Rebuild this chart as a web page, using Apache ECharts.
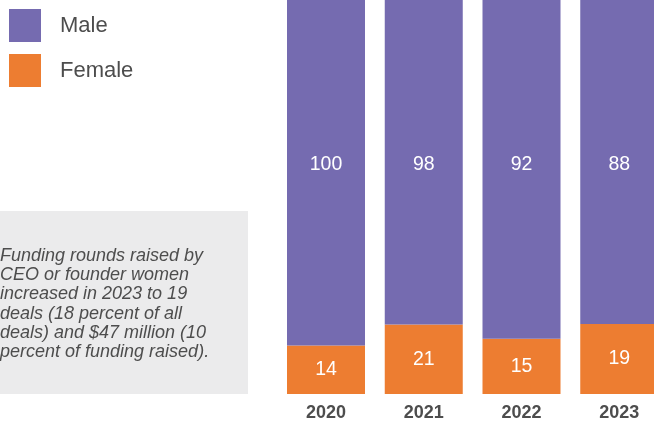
<!DOCTYPE html>
<html>
<head>
<meta charset="utf-8">
<script src="https://cdn.jsdelivr.net/npm/echarts@6/dist/echarts.min.js"></script>
<style>
html,body{margin:0;padding:0;background:#fff;}
#chart{width:654px;height:422px;}
</style>
</head>
<body>
<div id="chart"></div>
<script>
var years = ['2020', '2021', '2022', '2023'];
var maleDeals = [100, 98, 92, 88];
var femaleDeals = [14, 21, 15, 19];
var noteText = 'Funding rounds raised by\nCEO or founder women\nincreased in 2023 to 19\ndeals (18 percent of all\ndeals) and $47 million (10\npercent of funding raised).';

var FONT = '"Liberation Sans", Arial, Helvetica, sans-serif';
var PURPLE = '#756BB0';
var ORANGE = '#ED7D31';

function pct(a, b) { return a.map(function (v, i) { return v / (a[i] + b[i]) * 100; }); }
var femaleShare = pct(femaleDeals, maleDeals);
var maleShare = pct(maleDeals, femaleDeals);

var chart = echarts.init(document.getElementById('chart'), null, { renderer: 'canvas' });
chart.setOption({
  animation: false,
  backgroundColor: '#ffffff',
  textStyle: { fontFamily: FONT },
  legend: {
    data: ['Male', 'Female'],
    orient: 'vertical',
    left: 9, top: 9, padding: 0,
    itemWidth: 32, itemHeight: 33, itemGap: 12,
    icon: 'rect',
    textStyle: { fontSize: 22, color: '#4d4d4d', fontFamily: FONT, padding: [0, 0, 0, 14] }
  },
  grid: { left: 326, top: 0, width: 293.25, height: 396 },
  xAxis: {
    type: 'category', data: years, boundaryGap: false,
    axisLine: { show: false }, axisTick: { show: false },
    axisLabel: { fontSize: 18, fontWeight: 'bold', color: '#4d4d4d', margin: 10, fontFamily: FONT }
  },
  yAxis: { type: 'value', min: 0, max: 100, show: false, splitLine: { show: false } },
  graphic: [
    { type: 'rect', left: 0, top: 211, shape: { width: 248, height: 183 }, style: { fill: '#EBEBEC' }, z: 0 },
    { type: 'text', left: 0, top: 246, z: 1,
      style: { text: noteText, fontSize: 18, fontStyle: 'italic', fill: '#4d4d4d', lineHeight: 19.3, fontFamily: FONT } }
  ],
  series: [
    {
      name: 'Female', type: 'bar', stack: 'total', barWidth: 78, clip: false,
      itemStyle: { color: ORANGE },
      label: { show: true, position: 'inside', color: '#fff', fontSize: 19.5, fontFamily: FONT,
        formatter: function (p) { return femaleDeals[p.dataIndex]; } },
      data: femaleShare
    },
    {
      name: 'Male', type: 'bar', stack: 'total', barWidth: 78, clip: false,
      itemStyle: { color: PURPLE },
      label: { show: true, position: ['50%', 165], align: 'center', verticalAlign: 'middle', color: '#fff', fontSize: 19.5, fontFamily: FONT,
        formatter: function (p) { return maleDeals[p.dataIndex]; } },
      data: maleShare
    }
  ]
});
</script>
</body>
</html>
